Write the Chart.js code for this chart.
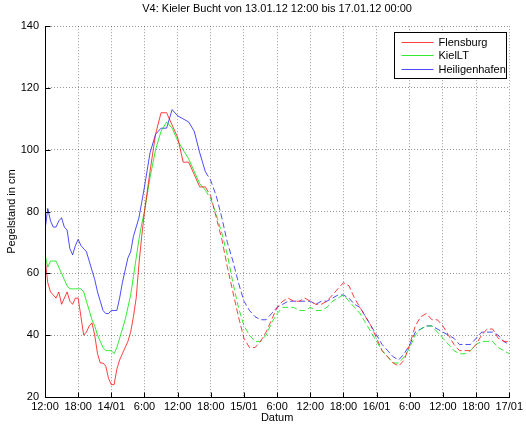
<!DOCTYPE html>
<html>
<head>
<meta charset="utf-8">
<title>V4: Kieler Bucht</title>
<script src="https://cdn.jsdelivr.net/npm/chart.js@4"></script>
<style>
  html, body { margin: 0; padding: 0; background: #fff; }
</style>
</head>
<body>
<canvas id="chartPegel" width="526" height="425"></canvas>
<script>
// Stunden ab 13.01.12 12:00 (erste 18 h halbstuendlich, danach stuendlich)
const hours = [
  0, 0.5, 1, 1.5, 2, 2.5, 3, 3.5, 4, 4.5, 5, 5.5, 6, 6.5, 7, 7.5, 8, 8.5, 9, 9.5,
  10, 10.5, 11, 11.5, 12, 12.5, 13, 13.5, 14, 14.5, 15, 15.5, 16, 16.5, 17, 17.5, 18,
  19, 20, 21, 22, 23, 24, 25, 26, 27, 28, 29, 30, 31, 32, 33, 34, 35, 36, 37, 38,
  39, 40, 41, 42, 43, 44, 45, 46, 47, 48, 49, 50, 51, 52, 53, 54, 55, 56, 57, 58,
  59, 60, 61, 62, 63, 64, 65, 66, 67, 68, 69, 70, 71, 72, 73, 74, 75, 76, 77, 78,
  79, 80, 81, 82, 83, 84
];

// Pegelstand in cm
const flensburg = [
  65, 57, 54, 53, 52, 54, 50, 52, 54, 51, 50, 52, 52, 46, 40, 41, 43, 44, 40, 34,
  31, 31, 30, 26, 24, 24, 29, 32, 34, 36, 38, 41, 46, 52, 63, 72, 80,
  93, 105, 112, 112, 108, 104, 96, 96, 92, 88, 88, 85, 78, 71, 62, 54, 46, 39, 36, 36,
  38, 41, 45, 49, 51, 52, 51, 51, 52, 51, 50, 50, 51, 53, 55, 57, 56, 52, 49, 46,
  43, 39, 35, 33, 31, 30, 32, 37, 43, 46, 47, 45, 45, 43, 40, 37, 35, 35, 35, 37,
  40, 42, 42, 39, 38, 38
];
const kielLT = [
  66, 62, 64, 64, 64, 62, 60, 58, 56, 55, 55, 55, 55, 55, 54, 51, 48, 45, 43, 40,
  38, 36, 35, 35, 35, 34, 36, 39, 42, 45, 49, 53, 59, 65, 71, 76, 80,
  91, 100, 106, 109, 107, 103, 100, 97, 93, 89, 87, 84, 79, 73, 66, 57, 49, 43, 40, 38,
  38, 40, 44, 47, 49, 49, 49, 48, 48, 49, 48, 48, 49, 51, 52, 53, 51, 49, 47, 44,
  41, 38, 35, 33, 31, 31, 33, 36, 40, 42, 43, 43, 41, 39, 37, 35, 34, 34, 35, 37,
  38, 38, 38, 36, 35, 34
];
const heiligenhafen = [
  74, 81, 77, 75, 75, 77, 78, 75, 74, 68, 66, 69, 71, 69, 68, 67, 64, 61, 58, 54,
  51, 48, 47, 47, 48, 48, 48, 52, 57, 61, 65, 67, 72, 75, 78, 83, 88,
  99, 105, 107, 107, 113, 111, 110, 109, 106, 99, 93, 90, 85, 78, 70, 64, 57, 51, 48, 46,
  45, 45, 47, 49, 50, 51, 51, 51, 51, 51, 50, 51, 51, 52, 53, 53, 52, 50, 49, 46,
  43, 40, 37, 35, 33, 32, 34, 37, 41, 42, 43, 43, 42, 41, 40, 39, 37, 37, 37, 39,
  41, 41, 41, 40, 38, 37
];

// ab hier Vorhersage (gestrichelt)
const forecastStart = 29;

const xTickLabels = ['12:00', '18:00', '14/01', '6:00', '12:00', '18:00', '15/01',
  '6:00', '12:00', '18:00', '16/01', '6:00', '12:00', '18:00', '17/01'];

const fontFamily = '"Liberation Sans", Arial, Helvetica, sans-serif';

function toPoints(values) {
  return values.map((v, i) => ({ x: hours[i], y: v }));
}

function makeDataset(label, values, color) {
  return {
    label: label,
    data: toPoints(values),
    borderColor: color,
    backgroundColor: color,
    borderWidth: 1,
    pointRadius: 0,
    tension: 0,
    fill: false,
    segment: {
      borderDash: ctx => ctx.p0.parsed.x >= forecastStart ? [6, 3] : undefined
    }
  };
}

// Achsenlinien links/unten + Ticks nach innen (wie MATLAB)
const matlabAxes = {
  id: 'matlabAxes',
  afterDatasetsDraw(chart) {
    const { ctx, chartArea: a, scales: { x, y } } = chart;
    const left = Math.round(a.left) + 0.5;
    const bottom = Math.round(a.bottom) + 0.5;
    ctx.save();
    ctx.strokeStyle = '#000';
    ctx.lineWidth = 1;
    ctx.setLineDash([]);
    ctx.beginPath();
    ctx.moveTo(left, Math.round(a.top));
    ctx.lineTo(left, bottom);
    ctx.lineTo(Math.round(a.right) + 1, bottom);
    x.ticks.forEach(t => {
      const px = Math.round(x.getPixelForValue(t.value)) + 0.5;
      ctx.moveTo(px, bottom);
      ctx.lineTo(px, bottom - 5);
    });
    y.ticks.forEach(t => {
      const py = Math.round(y.getPixelForValue(t.value)) + 0.5;
      ctx.moveTo(left, py);
      ctx.lineTo(left + 5, py);
    });
    ctx.stroke();
    ctx.restore();
  }
};

// Legende im Plotbereich oben rechts
const innerLegend = {
  id: 'innerLegend',
  afterDraw(chart) {
    const { ctx, chartArea: a } = chart;
    const w = 112, h = 46;
    const bx = Math.round(a.right - 3 - w) + 0.5;
    const by = Math.round(a.top + 6) + 0.5;
    ctx.save();
    ctx.fillStyle = '#fff';
    ctx.fillRect(bx, by, w, h);
    ctx.strokeStyle = '#000';
    ctx.lineWidth = 1;
    ctx.strokeRect(bx, by, w, h);
    ctx.font = '11px ' + fontFamily;
    ctx.textBaseline = 'middle';
    ctx.textAlign = 'left';
    chart.data.datasets.forEach((ds, i) => {
      const cy = Math.round(by + 9 + i * 13.7) + 0.5;
      ctx.strokeStyle = ds.borderColor;
      ctx.beginPath();
      ctx.moveTo(bx + 7, cy);
      ctx.lineTo(bx + 39, cy);
      ctx.stroke();
      ctx.fillStyle = '#000';
      ctx.fillText(ds.label, bx + 44, cy);
    });
    ctx.restore();
  }
};

const ctx = document.getElementById('chartPegel').getContext('2d');
const pegelChart = new Chart(ctx, {
  type: 'line',
  data: {
    datasets: [
      makeDataset('Flensburg', flensburg, 'rgba(255,0,0,0.75)'),
      makeDataset('KielLT', kielLT, 'rgba(0,230,0,0.8)'),
      makeDataset('Heiligenhafen', heiligenhafen, 'rgba(0,0,255,0.7)')
    ]
  },
  options: {
    responsive: false,
    animation: false,
    layout: { padding: { left: 0, right: 13, top: 0, bottom: 0 } },
    plugins: {
      legend: { display: false },
      tooltip: { enabled: false },
      title: {
        display: true,
        fullSize: false,
        text: 'V4: Kieler Bucht von 13.01.12 12:00 bis 17.01.12 00:00',
        color: '#000',
        font: { family: fontFamily, size: 11, weight: 'normal' },
        padding: { top: 2, bottom: 11 }
      }
    },
    scales: {
      x: {
        type: 'linear',
        min: 0,
        max: 84,
        afterFit: scale => { scale.height = 28; },
        ticks: {
          stepSize: 6,
          autoSkip: false,
          maxRotation: 0,
          color: '#000',
          padding: 3,
          font: { family: fontFamily, size: 11 },
          callback: value => xTickLabels[Math.round(value / 6)]
        },
        grid: { color: 'rgba(0,0,0,0.4)', drawTicks: false, lineWidth: 1 },
        border: { display: false, dash: [1, 2] },
        title: {
          display: true,
          text: 'Datum',
          color: '#000',
          font: { family: fontFamily, size: 11 },
          padding: { top: 0, bottom: 0 }
        }
      },
      y: {
        min: 20,
        max: 140,
        afterFit: scale => { scale.width = 45; },
        ticks: {
          stepSize: 20,
          color: '#000',
          padding: 6,
          font: { family: fontFamily, size: 11 }
        },
        grid: { color: 'rgba(0,0,0,0.4)', drawTicks: false, lineWidth: 1 },
        border: { display: false, dash: [1, 2] },
        title: {
          display: true,
          text: 'Pegelstand in cm',
          color: '#000',
          font: { family: fontFamily, size: 11 },
          padding: { top: 5, bottom: 0 }
        }
      }
    }
  },
  plugins: [matlabAxes, innerLegend]
});
</script>
</body>
</html>
